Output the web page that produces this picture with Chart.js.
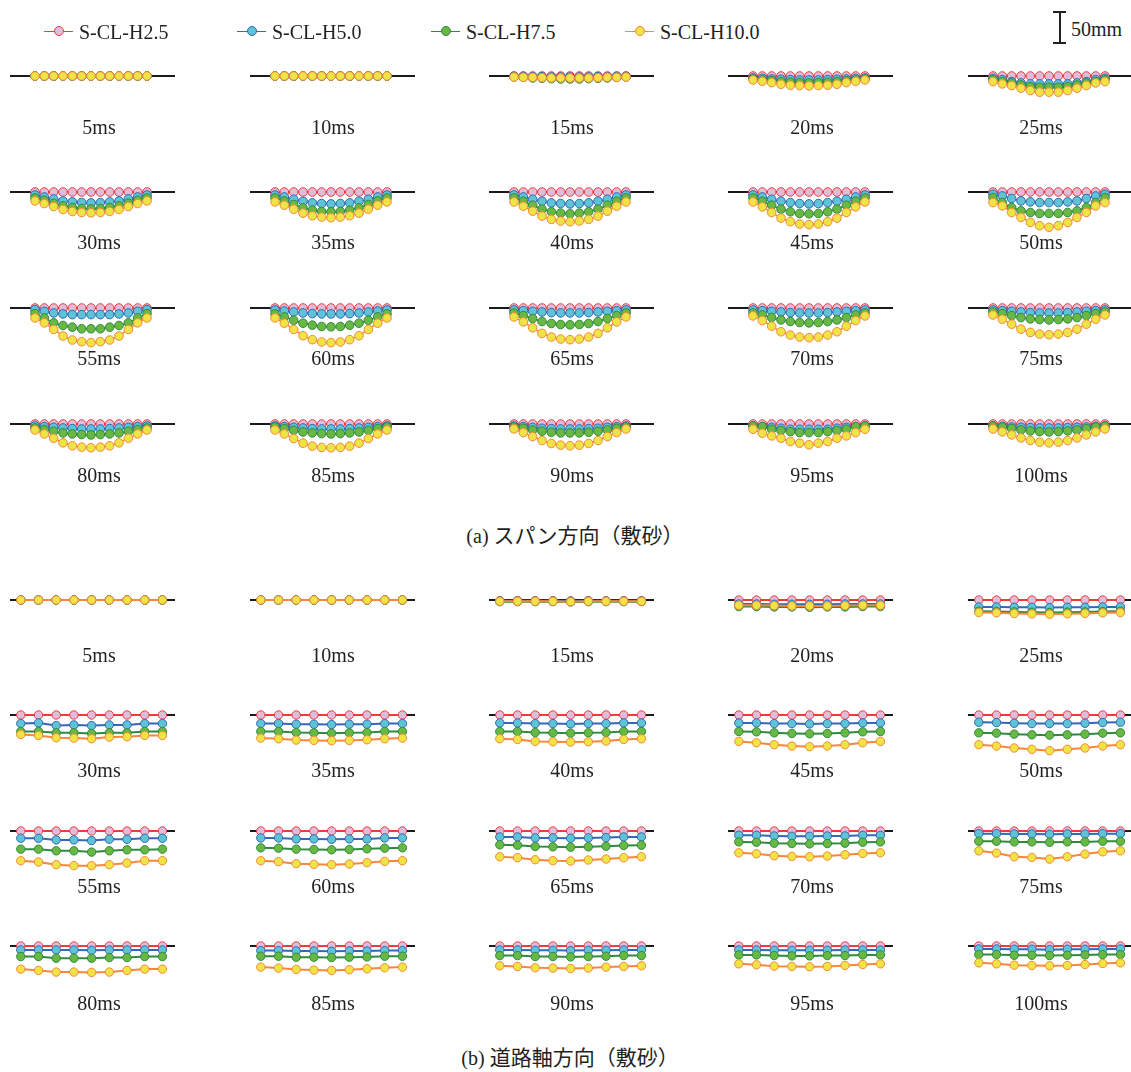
<!DOCTYPE html>
<html>
<head>
<meta charset="utf-8">
<script src="https://cdn.jsdelivr.net/npm/chart.js@4/dist/chart.umd.min.js"></script>
<style>
html, body { margin: 0; padding: 0; background: #fff; }
#page { position: relative; width: 1131px; height: 1072px; overflow: hidden;
        font-family: "Liberation Serif", "Times New Roman", serif; color: #231f20; }
.panel { position: absolute; }
.lbl { position: absolute; transform: translate(-50%, -50%); font-size: 20px; line-height: 1; white-space: nowrap; }
.jp { font-family: "Noto Sans CJK JP", sans-serif; font-size: 21px; }
.key-line { position: absolute; height: 1.5px; }
.key-dot { position: absolute; width: 8px; height: 8px; border-radius: 50%; border: 1px solid; transform: translate(-50%, -50%); }
.key-txt { position: absolute; font-size: 20px; line-height: 1; transform: translateY(-50%); white-space: nowrap; }
.bar-v { position: absolute; width: 2px; background: #231f20; }
.bar-h { position: absolute; height: 2px; background: #231f20; }
</style>
</head>
<body>
<div id="page"></div>
<script>
// ---- time steps and series -------------------------------------------------
const TIMES = [5, 10, 15, 20, 25, 30, 35, 40, 45, 50, 55, 60, 65, 70, 75, 80, 85, 90, 95, 100];
const TIME_LABELS = TIMES.map(t => t + 'ms');
const SERIES = ['S-CL-H2.5', 'S-CL-H5.0', 'S-CL-H7.5', 'S-CL-H10.0'];
const LINE_COLORS = ['#ee3b3b', '#3566b8', '#2f8a3f', '#f7873a'];
const FILL_COLORS = ['#dfbcd9', '#5ec3d4', '#69b843', '#eee445'];

// gauge numbers along each direction
const SPAN_GAUGES = [0, 1, 2, 3, 4, 5, 6, 7, 8, 9, 10, 11, 12];
const ROAD_GAUGES = [0, 1, 2, 3, 4, 5, 6, 7, 8];

// ---- deflection (mm, downward positive), span direction ---------------------
const spanH25 = [
  [0,0,0,0,0,0,0,0,0,0,0,0,0],[0,0,0,0,0,0,0,0,0,0,0,0,0],[0,0,0,0,0,0,0,0,0,0,0,0,0],
  [0,0,0,0,0,0,0,0,0,0,0,0,0],[0,0,0,0,0,0,0,0,0,0,0,0,0],[0,0,0,0,0,0,0,0,0,0,0,0,0],
  [0,0,0,0,0,0,0,0,0,0,0,0,0],[0,0,0,0,0,0,0,0,0,0,0,0,0],[0,0,0,0,0,0,0,0,0,0,0,0,0],
  [0,0,0,0,0,0,0,0,0,0,0,0,0],[0,0,0,0,0,0,0,0,0,0,0,0,0],[0,0,0,0,0,0,0,0,0,0,0,0,0],
  [0,0,0,0,0,0,0,0,0,0,0,0,0],[0,0,0,0,0,0,0,0,0,0,0,0,0],[0,0,0,0,0,0,0,0,0,0,0,0,0],
  [0,0,0,0,0,0,0,0,0,0,0,0,0],[0,0,0,0,0,0,0,0,0,0,0,0,0],[0,0,0,0,0,0,0,0,0,0,0,0,0],
  [0,0,0,0,0,0,0,0,0,0,0,0,0],[0,0,0,0,0,0,0,0,0,0,0,0,0]
];
const spanH50 = [
  [0,0,0,0,0,0,0,0,0,0,0,0,0],
  [0,0,0,0,0,0,0,0,0,0,0,0,0],
  [0.5,0.5,1,1,1.5,1.5,1.5,1.5,1.5,1,1,0.5,0.5],
  [3,3.5,4.5,5,5.5,6,6,6,5.5,5,4.5,3.5,3],
  [3.5,5.5,8.5,10.5,12,12,12,12,12,10.5,8.5,5.5,3.5],
  [4.5,7.5,10.5,13.5,15,16,16.5,16,15,13.5,10.5,7.5,4.5],
  [4.5,7.5,11,14,16.5,17.5,18,17.5,16.5,14,11,7.5,4.5],
  [4.5,7.5,11,14,16.5,17.5,18,17.5,16.5,14,11,7.5,4.5],
  [4.5,7.5,11,14,16,17.5,18,17.5,16,14,11,7.5,4.5],
  [3.5,6,10,13.5,15,16,16,16,15,13.5,10,6,3.5],
  [2.5,5,7.5,9,10,10,10,10,10,9,7.5,5,2.5],
  [3,4.5,6,7.5,8.5,9,9,9,8.5,7.5,6,4.5,3],
  [3,4,5,6,7,7.5,7.5,7.5,7,6,5,4,3],
  [3,4,5,6,7,7.5,7.5,7.5,7,6,5,4,3],
  [3,4,5,6,7,7.5,7.5,7.5,7,6,5,4,3],
  [3,4,5,6,7,7.5,7.5,7.5,7,6,5,4,3],
  [3,4,5,6,7,7.5,7.5,7.5,7,6,5,4,3],
  [3,4,5,6.5,7,7.5,7.5,7.5,7,6.5,5,4,3],
  [3,4,5,6.5,8,8,8,8,8,6.5,5,4,3],
  [3,3.5,4.5,5,5.5,6,6,6,5.5,5,4.5,3.5,3]
];
const spanH75 = [
  [0,0,0,0,0,0,0,0,0,0,0,0,0],
  [0,0,0,0,0,0,0,0,0,0,0,0,0],
  [1.5,2,3,3.5,4,4.5,4.5,4.5,4,3.5,3,2,1.5],
  [4.5,6,7,8.5,9.5,10,10.5,10,9.5,8.5,7,6,4.5],
  [5.5,8.5,10.5,13.5,16,17,17,17,16,13.5,10.5,8.5,5.5],
  [9,12.5,17,21,23.5,25,25.5,25,23.5,21,17,12.5,9],
  [9,13.5,19,24,27.5,29.5,30,29.5,27.5,24,19,13.5,9],
  [9,14,20,26,30,32,33,32,30,26,20,14,9],
  [9,14,20,26,30,32.5,33,32.5,30,26,20,14,9],
  [8.5,16,23.5,28.5,31,32.5,32.5,32.5,31,28.5,23.5,16,8.5],
  [8.5,15,22.5,26.5,29,31.5,31.5,31.5,29,26.5,22.5,15,8.5],
  [9,13.5,18.5,23,26,28,28.5,28,26,23,18.5,13.5,9],
  [7.5,11.5,16,20.5,23.5,25,25.5,25,23.5,20.5,16,11.5,7.5],
  [7.5,10.5,14.5,18,20.5,22,22.5,22,20.5,18,14.5,10.5,7.5],
  [6,8.5,11.5,14.5,16.5,17.5,18,17.5,16.5,14.5,11.5,8.5,6],
  [6,8.5,11,13.5,15,16,16.5,16,15,13.5,11,8.5,6],
  [4.5,7,9.5,12,13.5,14.5,15,14.5,13.5,12,9.5,7,4.5],
  [4.5,6.5,9,11,12.5,13.5,13.5,13.5,12.5,11,9,6.5,4.5],
  [3,4,8,10,11.5,13,13,13,11.5,10,8,4,3],
  [3,4.5,7,9,10.5,11.5,12,11.5,10.5,9,7,4.5,3]
];
const spanH100 = [
  [0,0,0,0,0,0,0,0,0,0,0,0,0],
  [0,0,0,0,0,0,0,0,0,0,0,0,0],
  [1.5,2,2,2.5,3,3,3,3,3,2.5,2,2,1.5],
  [6,8,10,12.5,14,14.5,15,14.5,14,12.5,10,8,6],
  [8.5,12,14.5,18.5,22,24.5,24.5,24.5,22,18.5,14.5,10.5,8.5],
  [13.5,17.5,22,26.5,29.5,31,31.5,31,29.5,26.5,22,17.5,13.5],
  [15,20,26,32,36,38,39,38,36,32,26,20,15],
  [15,21.5,29,36.5,41.5,44,45,44,41.5,36.5,29,21.5,15],
  [15,22.5,31,39.5,45,48.5,49.5,48.5,45,39.5,31,22.5,15],
  [16,21,31,38.5,46,51,53.5,51,46,38.5,31,21,16],
  [15,22.5,32.5,42.5,48.5,51,52.5,51,48.5,42.5,32.5,22.5,15],
  [15,23,32.5,42,48,51.5,52.5,51.5,48,42,32.5,23,15],
  [13.5,21,30,38.5,44,47,48,47,44,38.5,30,21,13.5],
  [12,19,27.5,36,41,44,45,44,41,36,27.5,19,12],
  [10.5,17,24.5,32,37,39.5,40.5,39.5,37,32,24.5,17,10.5],
  [9,15,21.5,28.5,33,35,36,35,33,28.5,21.5,15,9],
  [9,15,22,29,33.5,35.5,36,35.5,33.5,29,22,15,9],
  [7.5,13,19,25,29.5,32,33,32,29.5,25,19,13,7.5],
  [8,14,18,21.5,26.5,29,31.5,29,26.5,21.5,18,13,8],
  [7.5,12,16.5,21,25,27.5,28.5,27.5,25,21,16.5,12,7.5]
];

// ---- deflection (mm, downward positive), road-axis direction ----------------
const roadH25 = [
  [0,0,0,0,0,0,0,0,0],[0,0,0,0,0,0,0,0,0],[1,1,1,1,1.5,1,1,1,1],
  [0,0,0,0,0,0,0,0,0],[0,0,0,0,0,0,0,0,0],[0,0,0,0,0,0,0,0,0],
  [0,0,0,0,0,0,0,0,0],[0,0,0,0,0,0,0,0,0],[0,0,0,0,0,0,0,0,0],
  [0,0,0,0,0,0,0,0,0],[0,0,0,0,0,0,0,0,0],[0,0,0,0,0,0,0,0,0],
  [0,0,0,0,0,0,0,0,0],[0,0,0,0,0,0,0,0,0],[0,0,0,0,0,0,0,0,0],
  [0,0,0,0,0,0,0,0,0],[0,0,0,0,0,0,0,0,0],[0,0,0,0,0,0,0,0,0],
  [0,0,0,0,0,0,0,0,0],[0,0,0,0,0,0,0,0,0]
];
const roadH50 = [
  [0,0,0,0,0,0,0,0,0],
  [0,0,0,0,0,0,0,0,0],
  [1.5,1.5,1.5,1.5,1.5,1.5,1.5,1.5,1.5],
  [6,6,6.5,6.5,6.5,6.5,6,6,6],
  [10.5,10.5,11,11,11.5,11,11,10.5,10.5],
  [13,12,16,15,16,15,15,13,13],
  [13,13,14,14,14.5,14,14,13,13],
  [12,12,13,13,13.5,13,13,12,12],
  [12,12,13,13,13.5,13,13,12,12],
  [11,11.5,12.5,13,13,13,12.5,11.5,11],
  [11,11,13.5,13.5,14.5,12.5,12.5,11,11],
  [10.5,10.5,12,12,12.5,12,12,10.5,10.5],
  [9,9,10.5,10.5,11,10.5,10,9,9],
  [6.5,6.5,7.5,8,8,7.5,7.5,6.5,6.5],
  [4,4,4.5,4.5,5,4.5,4.5,4,4],
  [6,6,6,6,6.5,6,6,6,6],
  [7,7,7.5,7.5,8,7.5,7.5,7,7],
  [6,6,6.5,6.5,7,6.5,6.5,6,6],
  [6,6,6.5,6.5,6.5,6.5,6,6,6],
  [4.5,4.5,5,5,5.5,5,5,4.5,4.5]
];
const roadH75 = [
  [0,0,0,0,0,0,0,0,0],
  [0,0,0,0,0,0,0,0,0],
  [2.5,2.5,2.5,2.5,3,2.5,2.5,2.5,2.5],
  [10,10,10.5,10.5,11,10.5,10.5,10,10],
  [17,17.5,18,18.5,19,18.5,18,17.5,17],
  [25,25,27,27,28,27,27,25,25],
  [25,25,26.5,27,27.5,27,26.5,25,25],
  [25,25,26.5,27,27.5,27,26.5,25,25],
  [25,25.5,27,28,28.5,28,27,25.5,25],
  [27,27.5,29,30,30.5,30,29,27.5,27],
  [27.5,27.5,30,30,32,30,28.5,28.5,27.5],
  [25.5,26,27.5,28,28.5,28,27,26,25.5],
  [21,21.5,23.5,24,24.5,24,23,22,21.5],
  [16.5,17,18.5,19,19.5,19,18.5,17,16.5],
  [15.5,15.5,16.5,16.5,17,16.5,16.5,15.5,15.5],
  [16,16,18.5,18.5,18.5,17.5,17.5,16,16],
  [15.5,15.5,17,17,17.5,17,16.5,15.5,15.5],
  [14.5,14.5,16,16,16.5,16,15.5,14.5,14.5],
  [13.5,13.5,14.5,15,15,14.5,14.5,13.5,13.5],
  [13,13,14,14,14.5,14,13.5,13,13]
];
const roadH100 = [
  [0,0,0,0,0,0,0,0,0],
  [0,0,0,0,0,0,0,0,0],
  [2,2,2,2,2.5,2,2,2,2],
  [8,8,8.5,9,9,9,8.5,8,8],
  [19,19.5,20.5,21,21.5,21,20.5,19.5,19],
  [29.5,31,34.5,35,36,33.5,33,31,31],
  [35,36,38,38.5,39,38.5,37.5,36,35],
  [36,37,40,40.5,41,40.5,39.5,37,36],
  [40,42,45,47,48,47,45,42,40],
  [45,47,50,52,54,52,50,47,45],
  [45,47,51,52.5,52.5,51,48.5,45,45],
  [45,46.5,49.5,50.5,51,50,48,46,45],
  [39,40.5,43.5,45,45.5,44,42.5,40.5,39],
  [33,34.5,37.5,38.5,39,38,36,34,33],
  [30,33.5,39,40,42.5,39,35,31.5,30],
  [35,37,39.5,39.5,40,39.5,37,35,35],
  [32,33.5,35.5,36.5,37,36,34.5,33,32],
  [30,31,33,33.5,34,33.5,32,31,30],
  [27,28.5,30.5,31,31.5,31,29.5,28,27],
  [25.5,27,29,29.5,30,29.5,28,26.5,25.5]
];

// ---- page layout --------------------------------------------------------------
const PX_PER_MM = 33 / 50;          // vertical scale: the 50mm bar is 33px tall
const PANEL_W = 165;
const ABOVE = 8, BELOW = 46;        // canvas extent around the zero line (px)
const COL_LEFT = [10, 250, 489, 728, 968];
const COL_LABEL_X = [99, 333, 572, 812, 1041];
const SPAN_ROW_Y = [76, 192, 308, 424];
const SPAN_LABEL_Y = [127, 242, 358, 475];
const ROAD_ROW_Y = [600, 715, 831, 946];
const ROAD_LABEL_Y = [655, 770, 886, 1003];

const page = document.getElementById('page');

function addText(html, x, y, cls) {
  const d = document.createElement('div');
  d.className = cls || 'lbl';
  d.innerHTML = html;
  d.style.left = x + 'px';
  d.style.top = y + 'px';
  page.appendChild(d);
  return d;
}

function makePanel(series, gauges, xMin, xMax, step, left, zeroY, markerR, lineW) {
  const cv = document.createElement('canvas');
  cv.className = 'panel';
  cv.width = PANEL_W;
  cv.height = ABOVE + BELOW;
  cv.style.left = left + 'px';
  cv.style.top = (zeroY - ABOVE) + 'px';
  page.appendChild(cv);

  const datasets = [];
  // Chart.js paints the first dataset last, so the heaviest drop goes first
  for (let s = series.length - 1; s >= 0; s--) {
    datasets.push({
      label: SERIES[s],
      data: gauges.map((g, k) => ({ x: g, y: series[s][step][k] })),
      borderColor: LINE_COLORS[s],
      borderWidth: lineW,
      pointRadius: markerR,
      pointBorderWidth: 1,
      pointBackgroundColor: FILL_COLORS[s],
      pointBorderColor: LINE_COLORS[s],
      tension: 0,
      clip: false
    });
  }
  // undeformed reference line
  datasets.push({
    label: 'zero',
    data: [{ x: xMin, y: 0 }, { x: xMax, y: 0 }],
    borderColor: '#1a1a1a',
    borderWidth: 2,
    pointRadius: 0,
    clip: false
  });

  new Chart(cv, {
    type: 'line',
    data: { datasets },
    options: {
      responsive: false,
      animation: false,
      devicePixelRatio: 1,
      events: [],
      layout: { padding: 0, autoPadding: false },
      plugins: { legend: { display: false }, tooltip: { enabled: false } },
      scales: {
        x: { type: 'linear', display: false, min: xMin, max: xMax },
        y: { type: 'linear', display: false, reverse: true,
             min: -ABOVE / PX_PER_MM, max: BELOW / PX_PER_MM }
      }
    }
  });
}

const spanSeries = [spanH25, spanH50, spanH75, spanH100];
const roadSeries = [roadH25, roadH50, roadH75, roadH100];

TIMES.forEach((t, i) => {
  const row = Math.floor(i / 5), col = i % 5;
  makePanel(spanSeries, SPAN_GAUGES, -2.68, 15.0, i, COL_LEFT[col], SPAN_ROW_Y[row], 4.3, 1.5);
  addText(TIME_LABELS[i], COL_LABEL_X[col], SPAN_LABEL_Y[row]);
  makePanel(roadSeries, ROAD_GAUGES, -0.61, 8.71, i, COL_LEFT[col], ROAD_ROW_Y[row], 4.2, 2);
  addText(TIME_LABELS[i], COL_LABEL_X[col], ROAD_LABEL_Y[row]);
});

// section captions
addText('(a) <span class="jp">スパン方向（敷砂）</span>', 575, 535);
addText('(b) <span class="jp">道路軸方向（敷砂）</span>', 570, 1057);

// legend
const KEY_X = [44, 237, 431, 625];
SERIES.forEach((name, s) => {
  const x0 = KEY_X[s];
  const ln = document.createElement('div');
  ln.className = 'key-line';
  ln.style.left = x0 + 'px'; ln.style.top = '30.5px'; ln.style.width = '29px';
  ln.style.background = LINE_COLORS[s];
  page.appendChild(ln);
  const dot = document.createElement('div');
  dot.className = 'key-dot';
  dot.style.left = (x0 + 14.5) + 'px'; dot.style.top = '31px';
  dot.style.background = FILL_COLORS[s]; dot.style.borderColor = LINE_COLORS[s];
  page.appendChild(dot);
  addText(name, x0 + 35, 32, 'key-txt');
});

// 50mm scale bar
const v = document.createElement('div');
v.className = 'bar-v'; v.style.left = '1058.5px'; v.style.top = '11px'; v.style.height = '33px';
page.appendChild(v);
[11, 42].forEach(y => {
  const h = document.createElement('div');
  h.className = 'bar-h'; h.style.left = '1053px'; h.style.top = y + 'px'; h.style.width = '13px';
  page.appendChild(h);
});
addText('50mm', 1071, 29, 'key-txt');
</script>
</body>
</html>
